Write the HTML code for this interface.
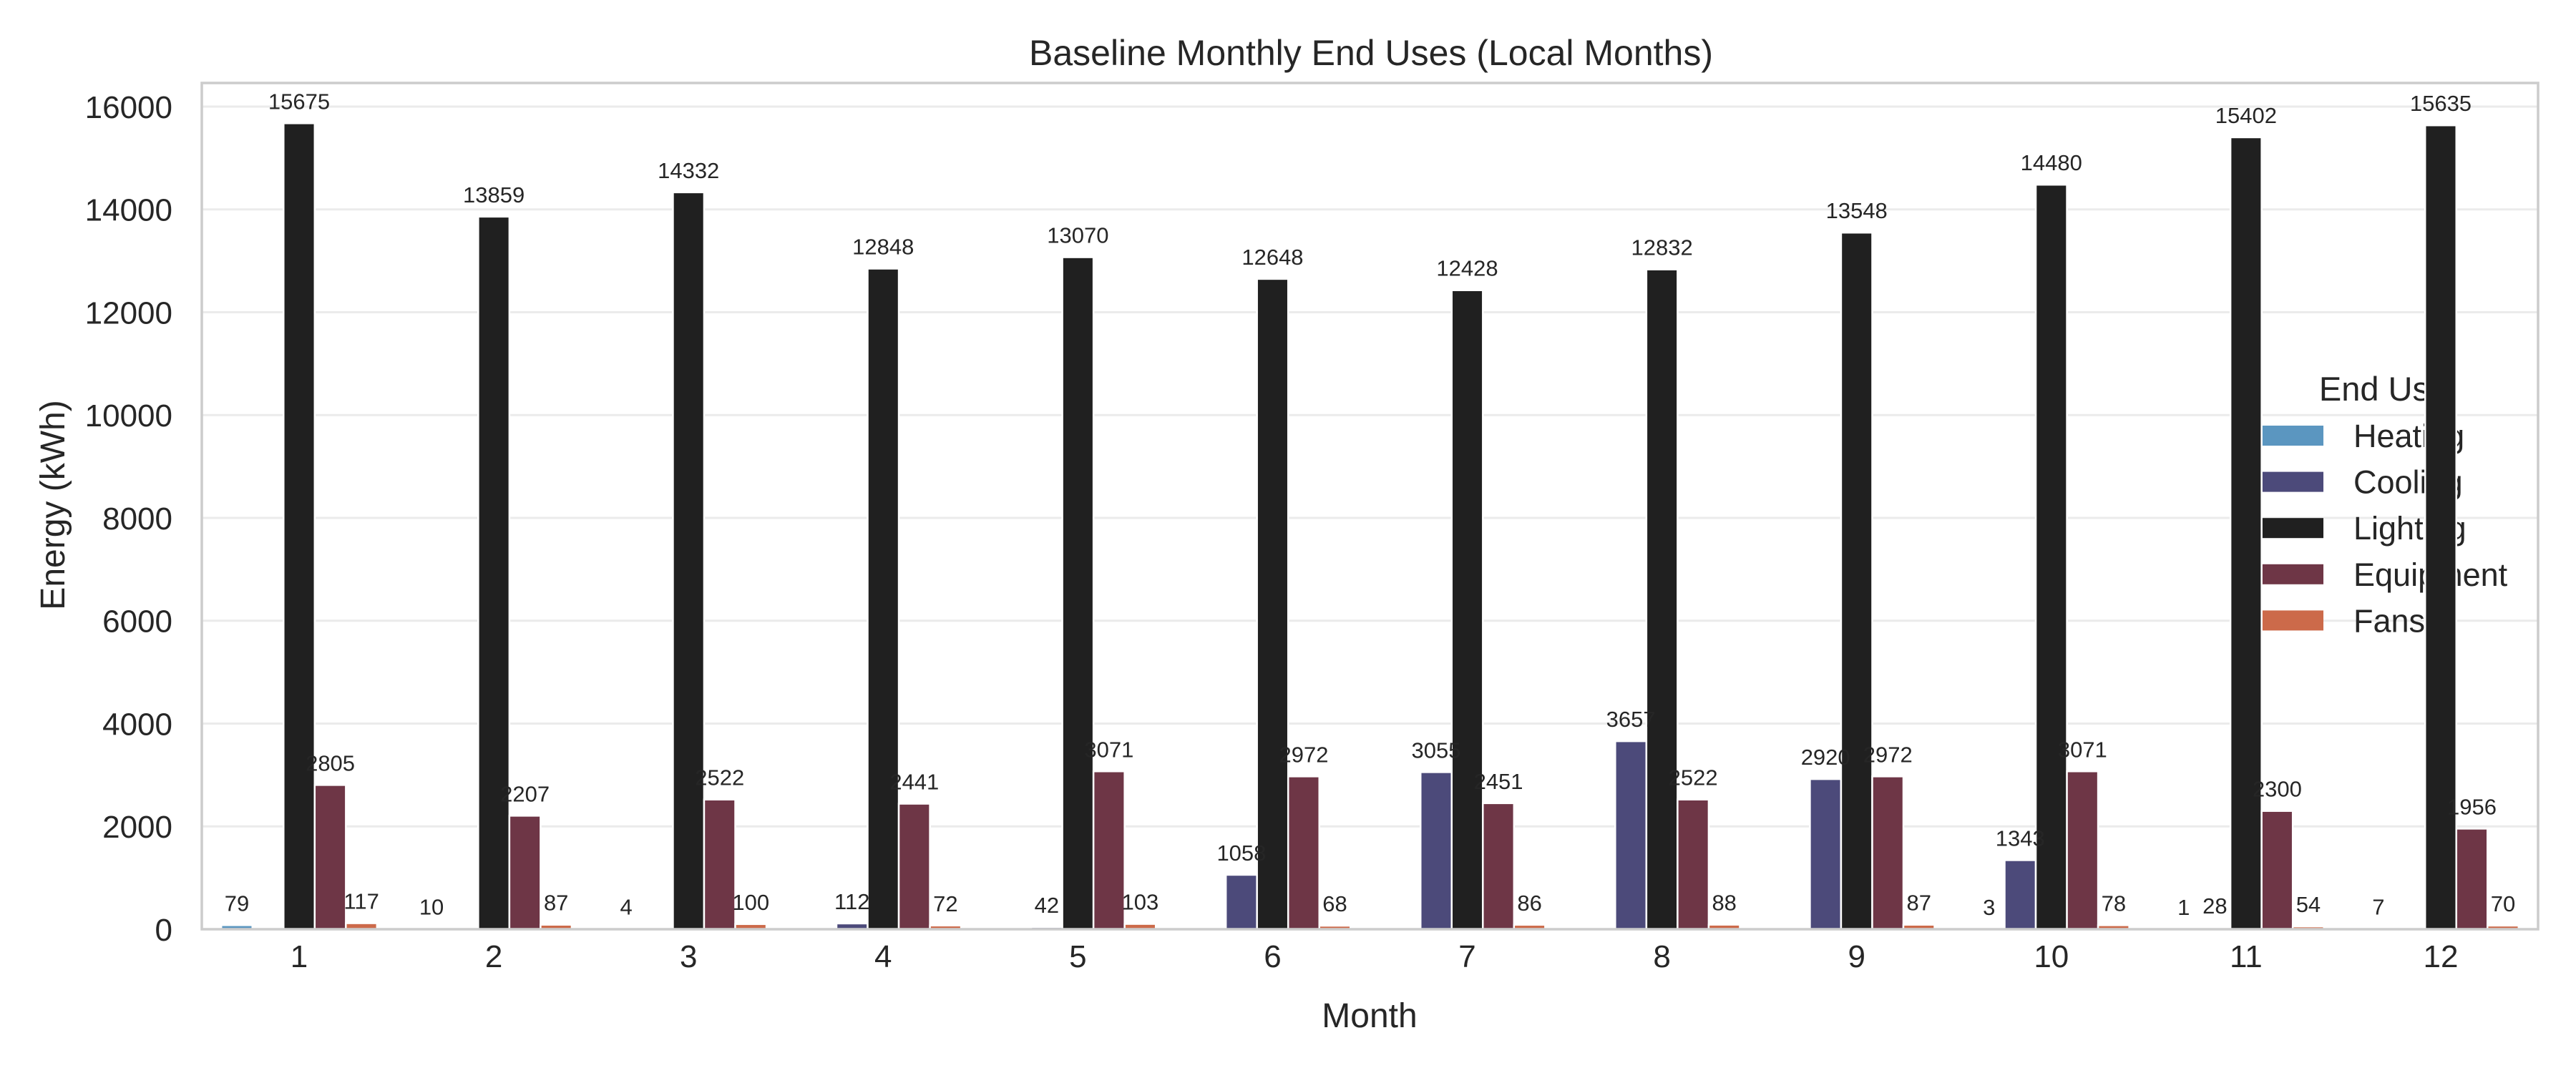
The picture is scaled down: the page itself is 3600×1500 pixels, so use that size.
<!DOCTYPE html>
<html><head><meta charset="utf-8">
<style>
html,body{margin:0;padding:0;background:#fff;}
svg{display:block;font-family:"Liberation Sans",Arial,sans-serif;}
</style></head>
<body>
<svg id="chart" width="3600" height="1500" viewBox="0 0 3600 1500" xmlns="http://www.w3.org/2000/svg">
<rect x="0" y="0" width="3600" height="1500" fill="#fff"/>
<g id="grid"></g>
<g id="legend"></g>
<g id="bars"></g>
<g id="labels"></g>
<rect x="282" y="116" width="3265" height="1183" fill="none" stroke="#cccccc" stroke-width="3.5"/>
<g id="ticks"></g>
<text x="1916" y="91" font-size="50" text-anchor="middle" fill="#262626">Baseline Monthly End Uses (Local Months)</text>
<text x="1914" y="1436" font-size="48" text-anchor="middle" fill="#262626">Month</text>
<text transform="translate(90,706) rotate(-90)" font-size="48" text-anchor="middle" fill="#262626">Energy (kWh)</text>
</svg>
<script>
const months = ["1","2","3","4","5","6","7","8","9","10","11","12"];
const seriesNames = ["Heating","Cooling","Lighting","Equipment","Fans"];
const heating = [79,10,4,0,0,0,0,0,0,3,1,7];
const cooling = [0,0,0,112,42,1058,3055,3657,2920,1343,28,0];
const lighting = [15675,13859,14332,12848,13070,12648,12428,12832,13548,14480,15402,15635];
const equipment = [2805,2207,2522,2441,3071,2972,2451,2522,2972,3071,2300,1956];
const fans = [117,87,100,72,103,68,86,88,87,78,54,70];
const yTicks = [0,2000,4000,6000,8000,10000,12000,14000,16000];

const colors = ["#5b96c0","#4c4a7a","#202020","#6e3646","#cc6a4a"];
const allSeries = [heating,cooling,lighting,equipment,fans];
const NS = "http://www.w3.org/2000/svg";
const AX = {left:282,right:3547,top:116,bottom:1299};
const yMax = Math.max(...lighting)*1.05;
function yScale(v){return AX.bottom - v/yMax*(AX.bottom-AX.top);}
const catW = (AX.right-AX.left)/months.length;
function xCenter(i){return AX.left + catW*(i+0.5);}
const barW = catW*0.8/seriesNames.length;
function mk(tag, attrs, parent){const e=document.createElementNS(NS,tag);for(const k in attrs)e.setAttribute(k,attrs[k]);parent.appendChild(e);return e;}

const grid=document.getElementById('grid');
const ticks=document.getElementById('ticks');
yTicks.forEach(t=>{
  const y=yScale(t);
  if(t>0){const g=mk('line',{x1:AX.left,x2:AX.right,y1:y,y2:y,stroke:'#ebebeb','stroke-width':3},grid);
  
  }
  const tx=mk('text',{x:241,y:y+16,'font-size':44,'text-anchor':'end',fill:'#262626'},ticks);
  tx.textContent=t;
  
  
});
months.forEach((m,i)=>{
  const tx=mk('text',{x:xCenter(i),y:1352,'font-size':44,'text-anchor':'middle',fill:'#262626'},ticks);
  tx.textContent=m;
  
  
});

const lg=document.getElementById('legend');
const lt=mk('text',{x:3331,y:560,'font-size':47,'text-anchor':'middle',fill:'#262626'},lg);
lt.textContent="End Use";


seriesNames.forEach((s,k)=>{
  const cy=609+k*64.6;
  const r=mk('rect',{x:3160,y:cy-14,width:87,height:28,fill:colors[k]},lg);
  
  
  const t=mk('text',{x:3289,y:cy+16,'font-size':45,fill:'#262626'},lg);
  t.textContent=s;
  
  
});

const bars=document.getElementById('bars');
const labels=document.getElementById('labels');
allSeries.forEach((data,k)=>{
  data.forEach((v,i)=>{
    const x=xCenter(i)+(k-2)*barW-barW/2;
    const y=yScale(v);
    if(v>0){
      const r=mk('rect',{x:x,y:y,width:barW,height:AX.bottom-y,fill:colors[k],stroke:'#ffffff','stroke-width':2.5},bars);
      
      
      const t=mk('text',{x:x+barW/2,y:y-20,'font-size':31,'text-anchor':'middle',fill:'#262626'},labels);
      t.textContent=v;
      
      
    }
  });
});
</script>
</body></html>
